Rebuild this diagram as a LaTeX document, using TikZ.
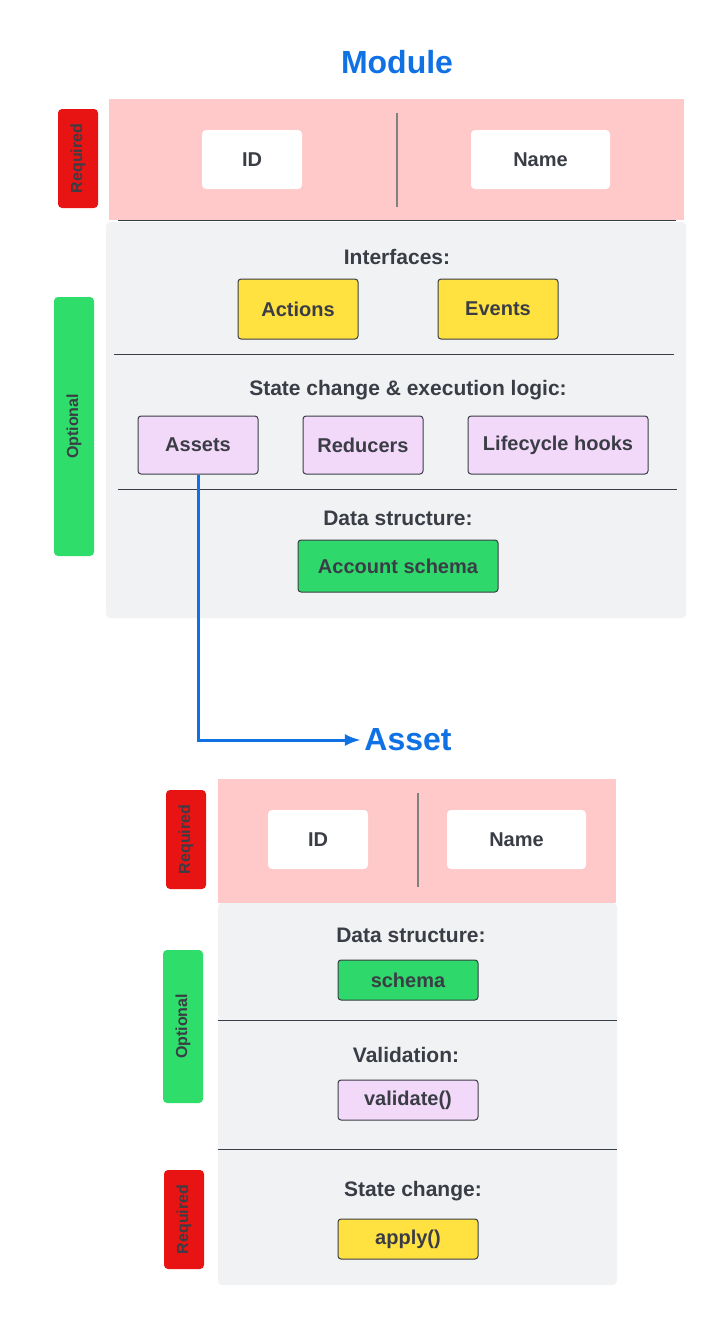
\documentclass[tikz,border=0pt]{standalone}
\usepackage{fontspec}
\setmainfont{Liberation Sans}
\usetikzlibrary{arrows.meta}
\definecolor{pinkbg}{HTML}{FFC9C9}
\definecolor{graybg}{HTML}{F1F2F4}
\definecolor{tagred}{HTML}{E81313}
\definecolor{taggreen}{HTML}{2FDD6A}
\definecolor{chipyellow}{HTML}{FFE13F}
\definecolor{chiplilac}{HTML}{F2D9FA}
\definecolor{chipgreen}{HTML}{2FD86A}
\definecolor{titleblue}{HTML}{1071E5}
\definecolor{inkdark}{HTML}{3A3D45}
\tikzset{
  title/.style={font=\fontsize{32}{36}\selectfont\bfseries, text=titleblue},
  heading/.style={font=\fontsize{21}{24}\selectfont\bfseries, text=inkdark},
  chip/.style={draw=inkdark, line width=1pt, rounded corners=3pt, font=\fontsize{20}{24}\selectfont\bfseries, text=inkdark, inner sep=0pt},
  whitebox/.style={fill=white, rounded corners=4pt, font=\fontsize{20}{24}\selectfont\bfseries, text=inkdark, inner sep=0pt},
  tag/.style={rounded corners=4pt, rotate=90, font=\fontsize{16}{18}\selectfont\bfseries, text=inkdark, inner sep=0pt},
  sep/.style={draw=inkdark, line width=0.8pt}
}
\begin{document}
\begin{tikzpicture}[x=1pt,y=-1pt]
  \useasboundingbox (0,0) rectangle (726,1326);

  % module
  \node[title] (mtitle) at (397,62) {Module};
  \fill[pinkbg] (109,99) rectangle (684,220);
  \fill[graybg, rounded corners=4pt] (106,222) rectangle (686,618);
  \draw[sep] (118,220) -- (676,220);
  \draw[gray, line width=1.5pt] (397,113) -- (397,207);
  \node[whitebox, minimum width=100pt, minimum height=59pt] (mid) at (252,159.5) {ID};
  \node[whitebox, minimum width=139pt, minimum height=59pt] (mname) at (540.5,159.5) {Name};
  \node[tag, fill=tagred, minimum width=99pt, minimum height=40pt] (mreq) at (78,158.5) {Required};
  \node[tag, fill=taggreen, minimum width=259pt, minimum height=40pt] (mopt) at (74,426.5) {Optional};

  \node[heading] (iface) at (397,257) {Interfaces:};
  \node[chip, fill=chipyellow, minimum width=120pt, minimum height=60pt] (actions) at (298,309) {Actions};
  \node[chip, fill=chipyellow, minimum width=120pt, minimum height=60pt] (events) at (498,309) {Events};
  \draw[sep] (114,354) -- (674,354);

  \node[heading] (logic) at (408,390) {State change \& execution logic:};
  \node[chip, fill=chiplilac, minimum width=120pt, minimum height=58pt] (assets) at (198,445) {Assets};
  \node[chip, fill=chiplilac, minimum width=120pt, minimum height=58pt] (reducers) at (363,445) {Reducers};
  \node[chip, fill=chiplilac, minimum width=180pt, minimum height=58pt] (hooks) at (558,445) {Lifecycle hooks};
  \draw[sep] (118,489) -- (677,489);

  \node[heading] (mdata) at (398,518) {Data structure:};
  \node[chip, fill=chipgreen, minimum width=200pt, minimum height=52pt] (account) at (398,566) {Account schema};

  % asset
  \node[title] (atitle) at (408,740) {Asset};
  \draw[titleblue, line width=3pt, -{Latex[length=16pt,width=12pt]}]
    (assets.south) |- (atitle.west);

  \fill[pinkbg] (218,779) rectangle (616,903);
  \fill[graybg, rounded corners=4pt] (218,903) rectangle (617,1285);
  \draw[gray, line width=1.5pt] (418,793) -- (418,887);
  \node[whitebox, minimum width=100pt, minimum height=59pt] (aid) at (318,839.5) {ID};
  \node[whitebox, minimum width=139pt, minimum height=59pt] (aname) at (516.5,839.5) {Name};
  \draw[sep] (218,1020) -- (617,1020);
  \draw[sep] (218,1149) -- (617,1149);
  \node[tag, fill=tagred, minimum width=99pt, minimum height=40pt] (areq) at (186,839.5) {Required};
  \node[tag, fill=taggreen, minimum width=153pt, minimum height=40pt] (aopt) at (183,1026.5) {Optional};
  \node[tag, fill=tagred, minimum width=99pt, minimum height=40pt] (areq2) at (184,1219.5) {Required};

  \node[heading] (adata) at (411,935) {Data structure:};
  \node[chip, fill=chipgreen, minimum width=140pt, minimum height=40pt] (schema) at (408,980) {schema};
  \node[heading] (valid) at (406,1055) {Validation:};
  \node[chip, fill=chiplilac, minimum width=140pt, minimum height=40pt] (validate) at (408,1100) {validate()};
  \node[heading] (state) at (413,1191) {State change:};
  \node[chip, fill=chipyellow, minimum width=140pt, minimum height=40pt] (apply) at (408,1239) {apply()};
\end{tikzpicture}
\end{document}
